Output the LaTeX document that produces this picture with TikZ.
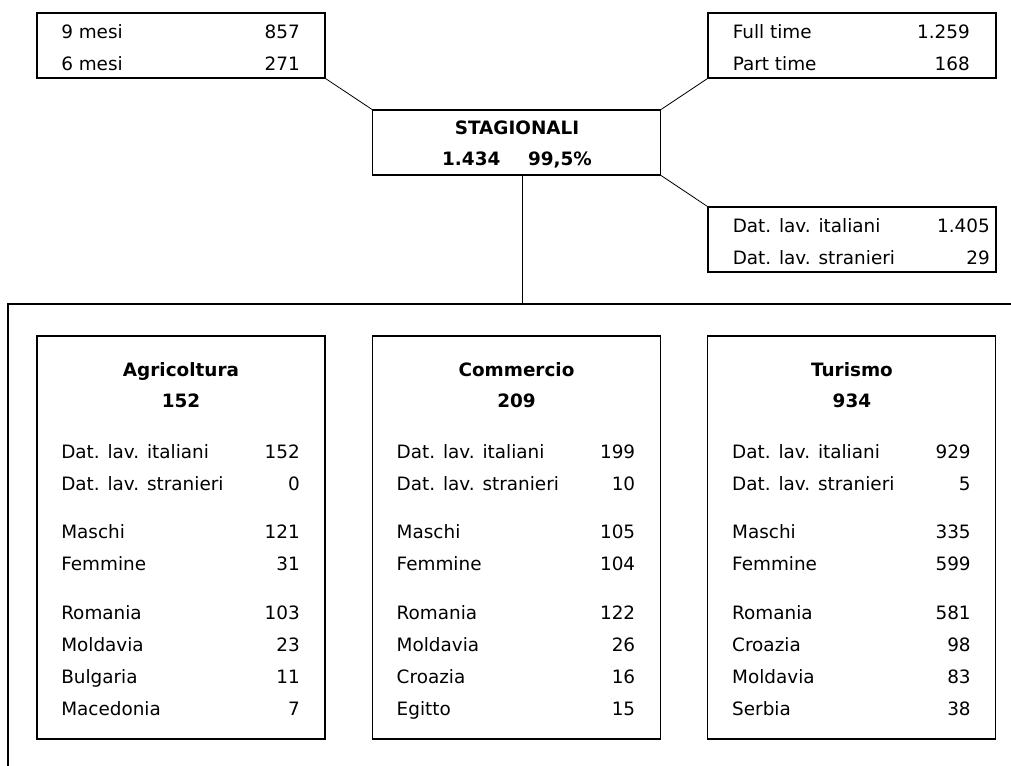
\documentclass[tikz,border=0pt]{standalone}
\usepackage{fontspec}
\setmainfont{DejaVu Sans}
\newcommand\tabfont{\fontsize{13.8pt}{16pt}\selectfont}
\begin{document}
\begin{tikzpicture}[x=0.75pt,y=-0.75pt,
  box/.style={draw,line width=0.8pt,inner sep=0pt,minimum width=216pt,minimum height=48.75pt},
  conn/.style={line width=0.6pt},
  lab/.style={anchor=base west,inner sep=0pt,font=\tabfont},
  val/.style={anchor=base east,inner sep=0pt,font=\tabfont},
  head/.style={anchor=base,inner sep=0pt,font=\tabfont\bfseries}]
 \useasboundingbox (0,0) rectangle (1011,765);
 % riquadri superiori
 \node[box] (mesi) at (181,45.5) {};
 \node[lab] (mesi-l1) at (61,38) {9 mesi}; \node[val] (mesi-v1) at (300,38) {857};
 \node[lab] (mesi-l2) at (61,70) {6 mesi}; \node[val] (mesi-v2) at (300,70) {271};
 \node[box] (orario) at (852,45.5) {};
 \node[lab] (orario-l1) at (732.5,38) {Full time}; \node[val] (orario-v1) at (970,38) {1.259};
 \node[lab] (orario-l2) at (732.5,70) {Part time}; \node[val] (orario-v2) at (970,70) {168};
 \node[box] (stag) at (516.6,142.5) {};
 \node[head] (stag-t) at (517,134) {STAGIONALI};
 \node[head] (stag-n) at (517,165.7) {1.434\hspace{1.5em}99,5\%};
 \node[box] (datori) at (852,239.5) {};
 \node[lab] (datori-l1) at (732.5,232) {Dat. lav. italiani}; \node[val] (datori-v1) at (990,232) {1.405};
 \node[lab] (datori-l2) at (732.5,264) {Dat. lav. stranieri}; \node[val] (datori-v2) at (990,264) {29};
 \draw[conn] (mesi.south east) -- (stag.north west);
 \draw[conn] (orario.south west) -- (stag.north east);
 \draw[conn] (stag.south east) -- (datori.north west);
 % cornice dei settori
 \coordinate (cornice) at (522,304);
 \draw[line width=0.8pt] (1020,304) -| (8,775);
 \draw[conn] (stag.south -| cornice) -- (cornice);
 % settori
 \begin{scope}
  \node[box,minimum height=302.25pt] (agr) at (181,537.5) {};
  \node[head] (agr-t) at (181,376) {Agricoltura};
  \node[head] (agr-n) at (181,407.5) {152};
  \foreach \y/\l/\v [count=\i] in {458/Dat. lav. italiani/152,490/Dat. lav. stranieri/0,538/Maschi/121,570/Femmine/31,619/Romania/103,651/Moldavia/23,683/Bulgaria/11,715/Macedonia/7}
   {\node[lab] (agr-l\i) at (61,\y) {\l}; \node[val] (agr-v\i) at (300,\y) {\v};}
 \end{scope}
 \begin{scope}[xshift=251.6pt]
  \node[box,minimum height=302.25pt] (com) at (181,537.5) {};
  \node[head] (com-t) at (181,376) {Commercio};
  \node[head] (com-n) at (181,407.5) {209};
  \foreach \y/\l/\v [count=\i] in {458/Dat. lav. italiani/199,490/Dat. lav. stranieri/10,538/Maschi/105,570/Femmine/104,619/Romania/122,651/Moldavia/26,683/Croazia/16,715/Egitto/15}
   {\node[lab] (com-l\i) at (61,\y) {\l}; \node[val] (com-v\i) at (300,\y) {\v};}
 \end{scope}
 \begin{scope}[xshift=503.2pt]
  \node[box,minimum height=302.25pt] (tur) at (181,537.5) {};
  \node[head] (tur-t) at (181,376) {Turismo};
  \node[head] (tur-n) at (181,407.5) {934};
  \foreach \y/\l/\v [count=\i] in {458/Dat. lav. italiani/929,490/Dat. lav. stranieri/5,538/Maschi/335,570/Femmine/599,619/Romania/581,651/Croazia/98,683/Moldavia/83,715/Serbia/38}
   {\node[lab] (tur-l\i) at (61,\y) {\l}; \node[val] (tur-v\i) at (300,\y) {\v};}
 \end{scope}
\end{tikzpicture}
\end{document}
